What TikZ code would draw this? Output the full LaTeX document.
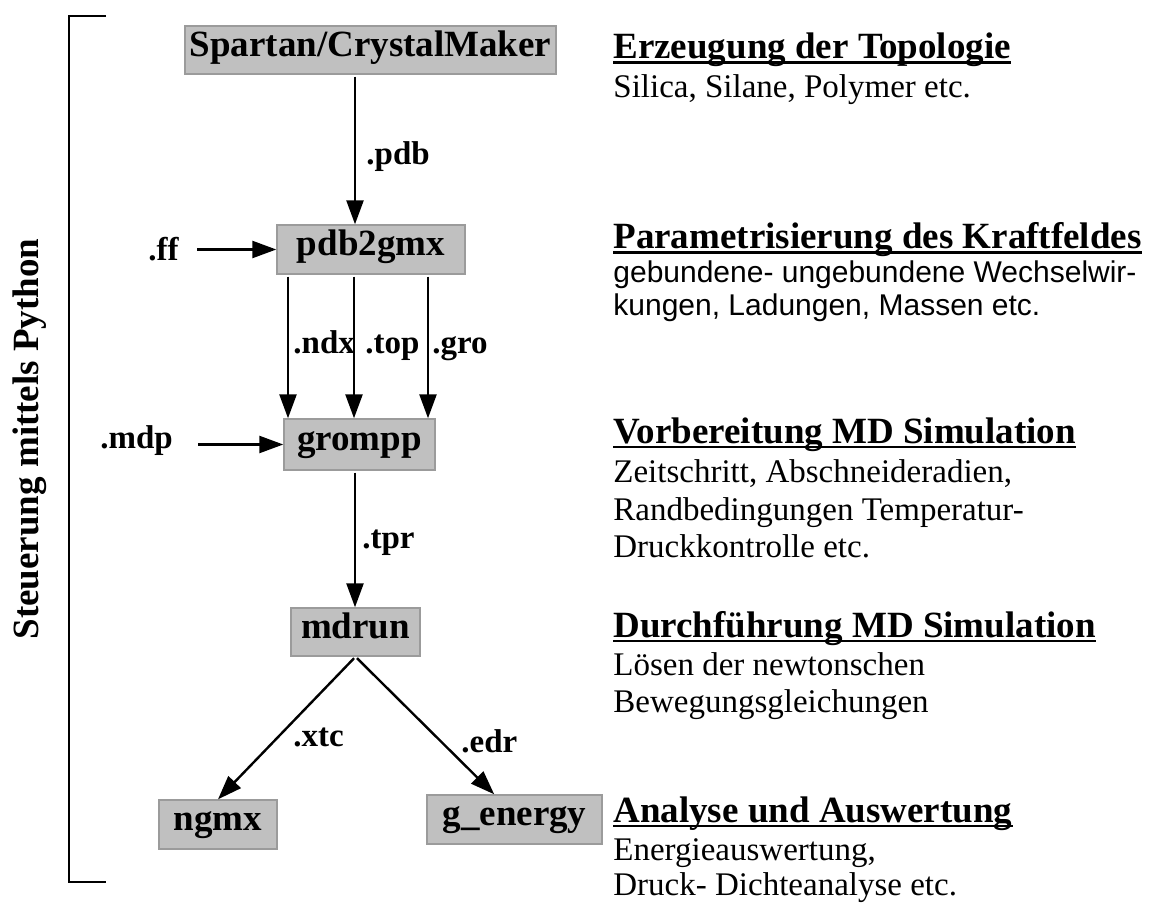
\documentclass[tikz,border=0pt]{standalone}
\usepackage{fontspec}
\setmainfont{Liberation Serif}
\newfontfamily\arialfont{Liberation Sans}
\usetikzlibrary{arrows.meta,calc}

\definecolor{boxfill}{RGB}{192,192,192}
\definecolor{boxline}{RGB}{155,155,155}

\begin{document}
\begin{tikzpicture}[x=0.5pt,y=-0.5pt,
    prog/.style={draw=boxline,fill=boxfill,line width=0.7pt,inner sep=0pt,
        font=\fontsize{18.5}{22}\selectfont\bfseries,text height=0.8em,text depth=0.16em},
    ext/.style={inner sep=0pt,anchor=base west,font=\fontsize{16.5}{20}\selectfont\bfseries},
    flow/.style={-{Triangle[length=12pt,width=8.5pt]},line width=1.2pt,shorten <=1pt},
    head/.style={inner sep=0pt,anchor=base west,font=\fontsize{18.5}{22}\selectfont\bfseries},
    body/.style={inner sep=0pt,anchor=base west,font=\fontsize{16.5}{20}\selectfont},
    sansbody/.style={inner sep=0pt,anchor=base west,font=\fontsize{15}{18}\selectfont\arialfont}]

    \useasboundingbox (0,0) rectangle (1154,903);

    % Klammer links
    \draw [line width=1.2pt] (106,16) -- (69,16) -- (69,882) -- (106,882);
    \node [rotate=90,anchor=base,inner sep=0pt,font=\fontsize{18.5}{22}\selectfont\bfseries] (ctrl) at (38,439) {Steuerung mittels Python};

    % Programme
    \node [prog,minimum width=185.5pt,minimum height=24pt] (spartan) at (370.5,50) {Spartan/CrystalMaker};
    \node [prog,minimum width=94pt,minimum height=24.5pt] (pdb2gmx) at (371,249.5) {pdb2gmx};
    \node [prog,minimum width=75.5pt,minimum height=25.5pt] (grompp) at (359.5,444.5) {grompp};
    \node [prog,minimum width=64.5pt,minimum height=24pt] (mdrun) at (355.5,632) {mdrun};
    \node [prog,minimum width=59pt,minimum height=24.5pt] (ngmx) at (218,824.5) {ngmx};
    \node [prog,minimum width=87.5pt,minimum height=24.5pt] (genergy) at (514.5,819.5) {g\_energy};

    % Dateien
    \node [ext] (fpdb) at (366,165) {.pdb};
    \node [ext] (fff) at (148,261) {.ff};
    \node [ext] (fndx) at (293,353) {.ndx};
    \node [ext] (ftop) at (365,353) {.top};
    \node [ext] (fgro) at (432,353) {.gro};
    \node [ext] (fmdp) at (100,448) {.mdp};
    \node [ext] (ftpr) at (362,548) {.tpr};
    \node [ext] (fxtc) at (293,746) {.xtc};
    \node [ext] (fedr) at (461,752) {.edr};

    \coordinate (axis) at (355,0);
    \coordinate (cndx) at (288,0);
    \coordinate (ctop) at (354,0);
    \coordinate (cgro) at (428,0);

    \draw [flow] (spartan.south -| axis) -- (pdb2gmx.north -| axis);
    \draw [flow,shorten <=9pt] (fff.east |- pdb2gmx.west) -- (pdb2gmx.west);
    \foreach \c in {cndx,ctop,cgro}
        \draw [flow] (pdb2gmx.south -| \c) -- (grompp.north -| \c);
    \draw [flow,shorten <=12.5pt] (fmdp.east |- grompp.west) -- (grompp.west);
    \draw [flow] (grompp.south -| axis) -- (mdrun.north -| axis);
    \draw [flow] (mdrun.south) -- (ngmx.north);
    \draw [flow] (mdrun.south) -- ($(genergy.north west)!0.385!(genergy.north east)$);

    % Beschreibung rechts
    \node [head] (h1) at (613,59) {Erzeugung der Topologie};
    \node [body] (b1a) at (613,98) {Silica, Silane, Polymer etc.};

    \node [head] (h2) at (613,249) {Parametrisierung des Kraftfeldes};
    \node [sansbody] (b2a) at (613,283) {gebundene- ungebundene Wechselwir-};
    \node [sansbody] (b2b) at (613,315) {kungen, Ladungen, Massen etc.};

    \node [head] (h3) at (613,443) {Vorbereitung MD Simulation};
    \node [body] (b3a) at (613,482) {Zeitschritt, Abschneideradien,};
    \node [body] (b3b) at (613,520) {Randbedingungen Temperatur-};
    \node [body] (b3c) at (613,557) {Druckkontrolle etc.};

    \node [head] (h4) at (613,637) {Durchführung MD Simulation};
    \node [body] (b4a) at (613,675) {Lösen der newtonschen};
    \node [body] (b4b) at (613,712) {Bewegungsgleichungen};

    \node [head] (h5) at (613,822) {Analyse und Auswertung};
    \node [body] (b5a) at (613,860) {Energieauswertung,};
    \node [body] (b5b) at (613,895) {Druck- Dichteanalyse etc.};

    \foreach \i in {1,...,5}
        \draw [line width=1.3pt] ([yshift=-1.9pt]h\i.base west) -- ([yshift=-1.9pt]h\i.base east);
\end{tikzpicture}
\end{document}
